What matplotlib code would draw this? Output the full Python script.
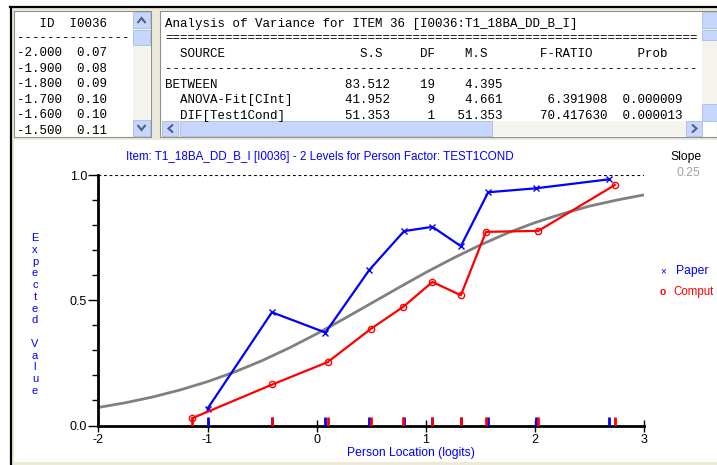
import matplotlib
matplotlib.use('Agg')
import matplotlib.pyplot as plt
from matplotlib.patches import Rectangle, Polygon

plt.rcParams['axes.unicode_minus'] = False
plt.rcParams['font.family'] = ['Liberation Sans', 'DejaVu Sans']

# left text panel: expected value table
icc_loc = [-2.0, -1.9, -1.8, -1.7, -1.6, -1.5]
icc_val = [0.07, 0.08, 0.09, 0.10, 0.10, 0.11]

# ANOVA table for item 36
src = ['BETWEEN', '  ANOVA-Fit[CInt]', '  DIF[Test1Cond]']
ss = [83.512, 41.952, 51.353]
dfs = [19, 9, 1]
ms = [4.395, 4.661, 51.353]
fratio = [None, 6.391908, 70.417630]
prob = [None, 0.000009, 0.000013]

# class interval means, Paper / Comput groups
paper_x = [-1.00, -0.41, 0.08, 0.48, 0.80, 1.06, 1.32, 1.57, 2.01, 2.68]
paper_y = [0.067, 0.452, 0.371, 0.620, 0.776, 0.793, 0.716, 0.931, 0.947, 0.983]
comp_x = [-1.14, -0.405, 0.10, 0.50, 0.79, 1.06, 1.32, 1.55, 2.03, 2.73]
comp_y = [0.029, 0.164, 0.253, 0.387, 0.473, 0.573, 0.520, 0.773, 0.777, 0.960]

# expected value curve (grey)
curve_x = [-2.0, -1.75, -1.5, -1.25, -1.0, -0.75, -0.5, -0.25, 0.0, 0.25, 0.5,
           0.75, 1.0, 1.25, 1.5, 1.75, 2.0, 2.25, 2.5, 2.75, 3.0]
curve_y = [0.072, 0.091, 0.114, 0.142, 0.175, 0.214, 0.259, 0.310, 0.366, 0.426, 0.488,
           0.550, 0.611, 0.668, 0.721, 0.769, 0.810, 0.845, 0.876, 0.900, 0.921]

W, H = 717, 465
fig = plt.figure(figsize=(W / 100, H / 100), dpi=100)
fig.patch.set_facecolor('white')

# window chrome drawn in pixel coordinates
bg = fig.add_axes([0, 0, 1, 1])
bg.set_xlim(0, W)
bg.set_ylim(H, 0)
bg.axis('off')

winbg = '#ECE9D8'
btn = '#C6D6FC'
track = '#F4F3EE'
bg.add_patch(Rectangle((10, 7), W - 10, H - 7, facecolor=winbg, edgecolor='none'))
bg.plot([10, W], [7.5, 7.5], color='black', lw=1.6)
bg.plot([10.5, 10.5], [7, H], color='black', lw=1.6)

# left panel
bg.add_patch(Rectangle((14, 11), 137, 126, facecolor='white', edgecolor='#8E8F8F', lw=0.8))
bg.add_patch(Rectangle((133, 12), 17, 124, facecolor=track, edgecolor='none'))
bg.add_patch(Rectangle((133, 12), 17, 16, facecolor=btn, edgecolor='#A9BCE6', lw=0.6))
bg.add_patch(Rectangle((133, 30), 17, 15, facecolor=btn, edgecolor='#A9BCE6', lw=0.6))
bg.add_patch(Rectangle((133, 120), 17, 16, facecolor=btn, edgecolor='#A9BCE6', lw=0.6))
bg.add_patch(Polygon([[137.5, 23], [141.5, 18], [145.5, 23]], closed=False, fill=False, edgecolor='#4D6185', lw=1.5))
bg.add_patch(Polygon([[137.5, 125], [141.5, 130], [145.5, 125]], closed=False, fill=False, edgecolor='#4D6185', lw=1.5))

mono = dict(family='Liberation Mono', fontsize=9, color='black', va='center')
bg.text(17, 24, '   ID  I0036', **mono)
bg.text(17, 38, '-' * 15, **mono)
for i, (loc, val) in enumerate(zip(icc_loc, icc_val)):
    bg.text(17, 53 + i * 15.6, f'{loc:6.3f}  {val:4.2f}', **mono)

# right panel
bg.add_patch(Rectangle((160, 11), W - 160, 126, facecolor='white', edgecolor='#8E8F8F', lw=0.8))
bg.add_patch(Rectangle((702, 12), 15, 110, facecolor=track, edgecolor='none'))
bg.add_patch(Rectangle((702, 12), 15, 16, facecolor=btn, edgecolor='#A9BCE6', lw=0.6))
bg.add_patch(Rectangle((702, 30), 15, 10, facecolor=btn, edgecolor='#A9BCE6', lw=0.6))
bg.add_patch(Rectangle((702, 104), 15, 17, facecolor=btn, edgecolor='#A9BCE6', lw=0.6))
bg.add_patch(Rectangle((162, 121), 540, 15, facecolor=track, edgecolor='none'))
bg.add_patch(Rectangle((162, 121), 16, 15, facecolor=btn, edgecolor='#A9BCE6', lw=0.6))
bg.add_patch(Rectangle((180, 121), 312, 15, facecolor=btn, edgecolor='#A9BCE6', lw=0.6))
bg.add_patch(Rectangle((686, 121), 16, 15, facecolor=btn, edgecolor='#A9BCE6', lw=0.6))
bg.add_patch(Polygon([[173, 124.5], [168.5, 128.5], [173, 132.5]], closed=False, fill=False, edgecolor='#4D6185', lw=1.5))
bg.add_patch(Polygon([[692, 124.5], [696.5, 128.5], [692, 132.5]], closed=False, fill=False, edgecolor='#4D6185', lw=1.5))

rows = ['Analysis of Variance for ITEM 36 [I0036:T1_18BA_DD_B_I]',
        '=' * 71,
        '  SOURCE' + ' ' * 18 + 'S.S' + ' ' * 5 + 'DF' + ' ' * 4 + 'M.S' + ' ' * 7 + 'F-RATIO' + ' ' * 6 + 'Prob',
        '-' * 71]
for i in range(len(src)):
    f_txt = '' if fratio[i] is None else f'{fratio[i]:.6f}'
    p_txt = '' if prob[i] is None else f'{prob[i]:.6f}'
    rows.append(f'{src[i]:<24}{ss[i]:6.3f}{dfs[i]:6d}{ms[i]:9.3f}{f_txt:>14}{p_txt:>10}')
row_y = [24, 38, 54, 69, 85, 100, 116]
for txt, y in zip(rows, row_y):
    bg.text(165, y, txt, clip_on=True, **mono)

# chart panel
bg.add_patch(Rectangle((14, 140), W - 14, 322, facecolor='white', edgecolor='none'))

ax = fig.add_axes([98.3 / W, 1 - 425.5 / H, 546 / W, 250.5 / H])
ax.patch.set_alpha(0)
ax.plot(curve_x, curve_y, color='#808080', lw=2, zorder=2)
ax.plot(paper_x, paper_y, color='#0000FF', lw=1.6, marker='x', ms=4, mew=1, zorder=3)
ax.plot(comp_x, comp_y, color='#FF0000', lw=1.6, marker='o', ms=4.5, mfc='none', mew=1, zorder=4)
ax.axhline(1.0, color='black', lw=0.8, ls=(0, (2.5, 2.5)), zorder=1)
ax.vlines(paper_x, 0, 0.032, color='#0000FF', lw=2, zorder=5)
ax.vlines(comp_x, 0, 0.032, color='#FF0000', lw=2, zorder=5)

ax.set_xlim(-2, 3)
ax.set_ylim(0, 1)
ax.set_xticks([-2, -1, 0, 1, 2, 3])
ax.set_yticks([0.0, 0.5, 1.0])
ax.set_yticklabels(['0.0', '0.5', '1.0'])
ax.set_yticks([0.1, 0.2, 0.3, 0.4, 0.6, 0.7, 0.8, 0.9], minor=True)
ax.tick_params(axis='y', which='major', direction='out', length=7, width=1, labelsize=9, pad=1)
ax.tick_params(axis='y', which='minor', direction='out', length=4, width=1)
ax.tick_params(axis='x', direction='inout', length=8, width=1, labelsize=9, pad=2)
for s in ['top', 'right']:
    ax.spines[s].set_visible(False)
ax.spines['left'].set_linewidth(2)
ax.spines['bottom'].set_linewidth(2)

blue = '#0000FF'
fig.text(126 / W, 1 - 157 / H, 'Item: T1_18BA_DD_B_I [I0036] - 2 Levels for Person Factor: TEST1COND',
         color=blue, fontsize=8.4, va='center', ha='left')
fig.text(411 / W, 1 - 453 / H, 'Person Location (logits)', color=blue, fontsize=8.7,
         va='center', ha='center')
fig.text(35 / W, 1 - 314.5 / H, '\n'.join('Expected Value'), color=blue, fontsize=8,
         va='center', ha='center', linespacing=1.22)
fig.text(686 / W, 1 - 157 / H, 'Slope', color='black', fontsize=8.7, va='center', ha='center')
fig.text(688 / W, 1 - 173 / H, '0.25', color='#A0A0A0', fontsize=8.7, va='center', ha='center')

fig.text(663 / W, 1 - 271 / H, '×', color=blue, fontsize=7, va='center', ha='center')
fig.text(676 / W, 1 - 271 / H, 'Paper', color=blue, fontsize=8.7, va='center')
fig.text(663 / W, 1 - 292 / H, 'o', color='red', fontsize=7.5, weight='bold', va='center', ha='center')
fig.text(714 / W, 1 - 292 / H, 'Comput', color='red', fontsize=8.3, va='center', ha='right')

fig.savefig('out.png', dpi=100)
